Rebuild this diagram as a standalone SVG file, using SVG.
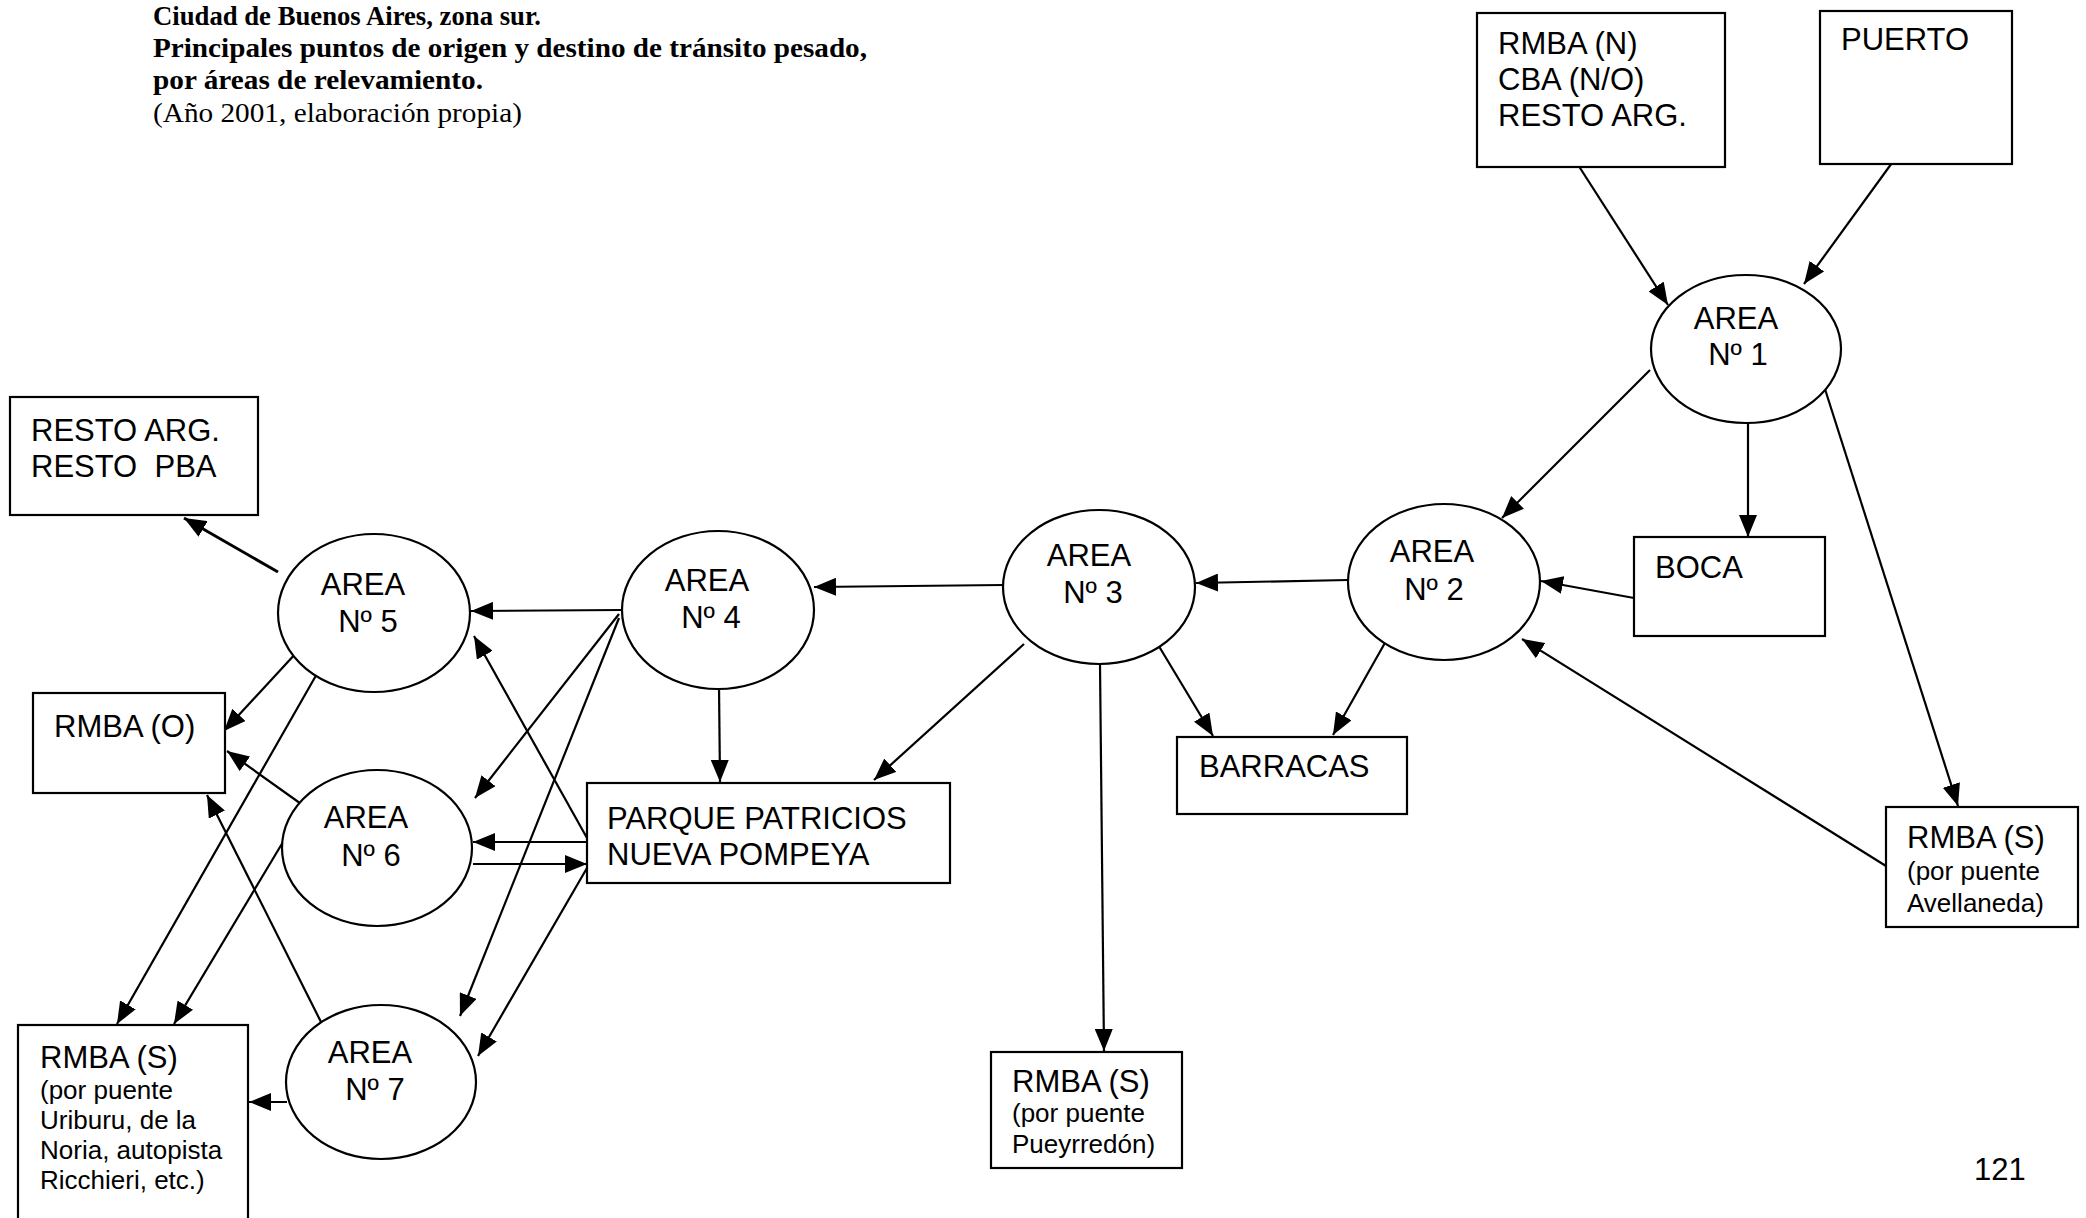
<svg xmlns="http://www.w3.org/2000/svg" width="2086" height="1218" viewBox="0 0 2086 1218">
<style>
.box{fill:#fff;stroke:#000;stroke-width:2.2}
.ell{fill:#fff;stroke:#000;stroke-width:2.2}
.t{font-family:"Liberation Sans",Arial,sans-serif;font-size:31px;fill:#000}
.s{font-family:"Liberation Sans",Arial,sans-serif;font-size:26px;fill:#000}
.c{text-anchor:middle}
.title{font-family:"Liberation Serif","Times New Roman",serif;font-size:28px;fill:#000}
.edges line{stroke:#000;stroke-width:2.2;fill:none;marker-end:url(#ah)}
</style>
<defs>
<marker id="ah" viewBox="0 0 22 18" refX="22" refY="9" markerWidth="22" markerHeight="18" markerUnits="userSpaceOnUse" orient="auto">
<path d="M0,0 L22,9 L0,18 z" fill="#000"/>
</marker>
</defs>
<rect width="2086" height="1218" fill="#fff"/>

<g id="title">
<text class="title" x="153" y="25" font-weight="bold" textLength="388" lengthAdjust="spacingAndGlyphs">Ciudad de Buenos Aires, zona sur.</text>
<text class="title" x="153" y="57" font-weight="bold" textLength="714" lengthAdjust="spacingAndGlyphs">Principales puntos de origen y destino de tránsito pesado,</text>
<text class="title" x="153" y="89" font-weight="bold" textLength="330" lengthAdjust="spacingAndGlyphs">por áreas de relevamiento.</text>
<text class="title" x="153" y="122" textLength="369" lengthAdjust="spacingAndGlyphs">(Año 2001, elaboración propia)</text>
</g>

<g class="edges" id="connectors">
<line x1="1573" y1="157" x2="1668" y2="305"/>
<line x1="1897" y1="156" x2="1804" y2="284"/>
<line x1="1650" y1="370" x2="1502" y2="518"/>
<line x1="1748" y1="412" x2="1748" y2="537"/>
<line x1="1824" y1="386" x2="1958" y2="806"/>
<line x1="1634" y1="598" x2="1541" y2="581"/>
<line x1="1886" y1="866" x2="1522" y2="639"/>
<line x1="1348" y1="580" x2="1196" y2="583"/>
<line x1="1386" y1="641" x2="1333" y2="735"/>
<line x1="1157" y1="643" x2="1213" y2="736"/>
<line x1="1003" y1="585" x2="814" y2="587"/>
<line x1="1024" y1="644" x2="874" y2="780"/>
<line x1="1100" y1="664" x2="1104" y2="1051"/>
<line x1="621" y1="610" x2="471" y2="611"/>
<line x1="719" y1="686" x2="720" y2="782"/>
<line x1="619" y1="614" x2="475" y2="798"/>
<line x1="619" y1="618" x2="460" y2="1016"/>
<line x1="587" y1="838" x2="474" y2="636"/>
<line x1="587" y1="842" x2="473" y2="842"/>
<line x1="473" y1="864" x2="587" y2="864"/>
<line x1="587" y1="868" x2="478" y2="1056"/>
<line x1="278" y1="572" x2="184" y2="518" style="stroke-width:3"/>
<line x1="297" y1="652" x2="224" y2="731"/>
<line x1="304" y1="806" x2="227" y2="751"/>
<line x1="321" y1="1022" x2="207" y2="795"/>
<line x1="318" y1="672" x2="117" y2="1024"/>
<line x1="283" y1="842" x2="174" y2="1024"/>
<line x1="287" y1="1102" x2="249" y2="1102"/>
</g>

<g id="rmba-n">
<rect class="box" x="1477" y="13" width="248" height="154"/>
<text class="t" x="1498" y="54">RMBA (N)</text>
<text class="t" x="1498" y="90">CBA (N/O)</text>
<text class="t" x="1498" y="126">RESTO ARG.</text>
</g>
<g id="puerto">
<rect class="box" x="1820" y="11" width="192" height="153"/>
<text class="t" x="1841" y="50">PUERTO</text>
</g>
<g id="area1">
<ellipse class="ell" cx="1746" cy="349" rx="95" ry="74"/>
<text class="t c" x="1736" y="329">AREA</text>
<text class="t c" x="1738" y="365">Nº 1</text>
</g>
<g id="boca">
<rect class="box" x="1634" y="537" width="191" height="99"/>
<text class="t" x="1655" y="578">BOCA</text>
</g>
<g id="area2">
<ellipse class="ell" cx="1444" cy="582" rx="96" ry="78"/>
<text class="t c" x="1432" y="562">AREA</text>
<text class="t c" x="1434" y="600">Nº 2</text>
</g>
<g id="rmba-s-avellaneda">
<rect class="box" x="1886" y="807" width="192" height="120"/>
<text class="t" x="1907" y="848">RMBA (S)</text>
<text class="s" x="1907" y="880">(por puente</text>
<text class="s" x="1907" y="912">Avellaneda)</text>
</g>
<g id="barracas">
<rect class="box" x="1177" y="737" width="230" height="77"/>
<text class="t" x="1199" y="777">BARRACAS</text>
</g>
<g id="area3">
<ellipse class="ell" cx="1099" cy="587" rx="96" ry="77"/>
<text class="t c" x="1089" y="566">AREA</text>
<text class="t c" x="1093" y="603">Nº 3</text>
</g>
<g id="rmba-s-pueyrredon">
<rect class="box" x="991" y="1052" width="191" height="116"/>
<text class="t" x="1012" y="1092">RMBA (S)</text>
<text class="s" x="1012" y="1122">(por puente</text>
<text class="s" x="1012" y="1153">Pueyrredón)</text>
</g>
<g id="area4">
<ellipse class="ell" cx="718" cy="610" rx="96" ry="79"/>
<text class="t c" x="707" y="591">AREA</text>
<text class="t c" x="711" y="628">Nº 4</text>
</g>
<g id="parque">
<rect class="box" x="587" y="783" width="363" height="100"/>
<text class="t" x="607" y="829">PARQUE PATRICIOS</text>
<text class="t" x="607" y="865">NUEVA POMPEYA</text>
</g>
<g id="area5">
<ellipse class="ell" cx="374" cy="613" rx="96" ry="79"/>
<text class="t c" x="363" y="595">AREA</text>
<text class="t c" x="368" y="632">Nº 5</text>
</g>
<g id="resto">
<rect class="box" x="10" y="397" width="248" height="118"/>
<text class="t" x="31" y="441">RESTO ARG.</text>
<text class="t" x="31" y="477" xml:space="preserve">RESTO  PBA</text>
</g>
<g id="rmba-o">
<rect class="box" x="33" y="693" width="192" height="100"/>
<text class="t" x="54" y="737">RMBA (O)</text>
</g>
<g id="area6">
<ellipse class="ell" cx="377" cy="848" rx="95" ry="78"/>
<text class="t c" x="366" y="828">AREA</text>
<text class="t c" x="371" y="866">Nº 6</text>
</g>
<g id="area7">
<ellipse class="ell" cx="381" cy="1082" rx="95" ry="77"/>
<text class="t c" x="370" y="1063">AREA</text>
<text class="t c" x="375" y="1100">Nº 7</text>
</g>
<g id="rmba-s-uriburu">
<rect class="box" x="18" y="1025" width="230" height="205"/>
<text class="t" x="40" y="1068">RMBA (S)</text>
<text class="s" x="40" y="1099">(por puente</text>
<text class="s" x="40" y="1129">Uriburu, de la</text>
<text class="s" x="40" y="1159">Noria, autopista</text>
<text class="s" x="40" y="1189">Ricchieri, etc.)</text>
</g>
<g id="page">
<text class="t" x="1974" y="1180">121</text>
</g>
</svg>
